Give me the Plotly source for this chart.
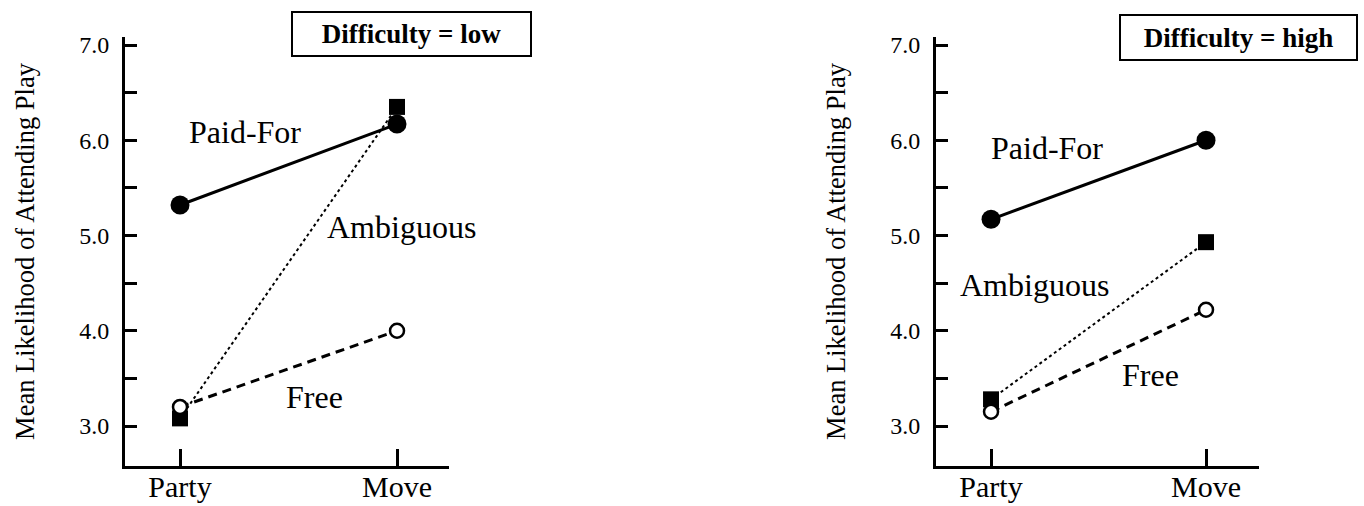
import plotly.graph_objects as go

categories = ["Party", "Move"]

# Difficulty = low
low_paid = [5.32, 6.17]
low_ambig = [3.08, 6.35]
low_free = [3.20, 4.00]

# Difficulty = high
high_paid = [5.17, 6.00]
high_ambig = [3.28, 4.93]
high_free = [3.15, 4.22]

y_tickvals = [3.0, 3.5, 4.0, 4.5, 5.0, 5.5, 6.0, 6.5, 7.0]
y_ticktext = ["3.0", "", "4.0", "", "5.0", "", "6.0", "", "7.0"]

# label positions (category index, value)
low_labels = [("Paid-For", 0.30, 6.09), ("Ambiguous", 1.02, 5.09), ("Free", 0.62, 3.30)]
high_labels = [("Paid-For", 0.26, 5.92), ("Ambiguous", 0.20, 4.48), ("Free", 0.74, 3.54)]

FONT = "Liberation Serif, Times New Roman, serif"
W, H = 1364, 506

fig = go.Figure()


def add_panel(xa, ya, paid, ambig, free):
    fig.add_trace(go.Scatter(
        x=categories, y=ambig, xaxis=xa, yaxis=ya, mode="lines+markers",
        line=dict(color="black", width=2, dash="dot"),
        marker=dict(symbol="square", size=16, color="black"),
        showlegend=False, hoverinfo="skip"))
    fig.add_trace(go.Scatter(
        x=categories, y=paid, xaxis=xa, yaxis=ya, mode="lines+markers",
        line=dict(color="black", width=3),
        marker=dict(symbol="circle", size=19, color="black"),
        showlegend=False, hoverinfo="skip"))
    fig.add_trace(go.Scatter(
        x=categories, y=free, xaxis=xa, yaxis=ya, mode="lines+markers",
        line=dict(color="black", width=3, dash="9px,6px"),
        marker=dict(symbol="circle", size=14, color="white",
                    line=dict(color="black", width=2.5)),
        showlegend=False, hoverinfo="skip"))


add_panel("x", "y", low_paid, low_ambig, low_free)
add_panel("x2", "y2", high_paid, high_ambig, high_free)

ydom = [1 - 466 / H, 1 - 37 / H]
yrange = [2.58, 7.084]

xcommon = dict(
    type="category", showline=True, linecolor="black", linewidth=3,
    ticks="inside", ticklen=17, tickwidth=2.5, tickcolor="black",
    showgrid=False, zeroline=False, automargin=False,
    tickfont=dict(family=FONT, size=30, color="black"),
    ticklabelstandoff=-8,
)
ycommon = dict(
    range=yrange, domain=ydom, showline=True, linecolor="black", linewidth=3,
    ticks="inside", ticklen=12, tickwidth=2.5, tickcolor="black",
    tickvals=y_tickvals, ticktext=y_ticktext,
    showgrid=False, zeroline=False, automargin=False,
    tickfont=dict(family=FONT, size=24, color="black"),
    ticklabelstandoff=8,
    title=dict(text="Mean Likelihood of Attending Play",
               font=dict(family=FONT, size=26.5, color="black"), standoff=37),
)

fig.update_layout(
    template="none",
    width=W, height=H,
    margin=dict(l=0, r=0, t=0, b=0, autoexpand=False),
    paper_bgcolor="white", plot_bgcolor="white",
    xaxis=dict(domain=[125 / W, 449 / W], range=[-0.2535, 1.2396], anchor="y", **xcommon),
    yaxis=dict(anchor="x", **ycommon),
    xaxis2=dict(domain=[936 / W, 1259 / W], range=[-0.256, 1.2465], anchor="y2", **xcommon),
    yaxis2=dict(anchor="x2", **ycommon),
)

for (txt, xv, yv) in low_labels:
    fig.add_annotation(x=xv, y=yv, xref="x", yref="y", text=txt, showarrow=False,
                       font=dict(family=FONT, size=32, color="black"))
for (txt, xv, yv) in high_labels:
    fig.add_annotation(x=xv, y=yv, xref="x2", yref="y2", text=txt, showarrow=False,
                       font=dict(family=FONT, size=32, color="black"))

# panel title boxes
fig.add_annotation(x=411 / W, y=1 - 34 / H, xref="paper", yref="paper",
                   text="<b>Difficulty = low</b>", showarrow=False,
                   font=dict(family=FONT, size=27, color="black"),
                   width=237, height=42, borderwidth=2, bordercolor="black",
                   borderpad=0, bgcolor="white", xanchor="center", yanchor="middle")
fig.add_annotation(x=1238 / W, y=1 - 37 / H, xref="paper", yref="paper",
                   text="<b>Difficulty = high</b>", showarrow=False,
                   font=dict(family=FONT, size=27, color="black"),
                   width=235, height=43, borderwidth=2, bordercolor="black",
                   borderpad=0, bgcolor="white", xanchor="center", yanchor="middle")

fig.write_html("out.html", config={"displayModeBar": False},
               post_script="document.body.style.margin='0';document.body.style.padding='0';")
